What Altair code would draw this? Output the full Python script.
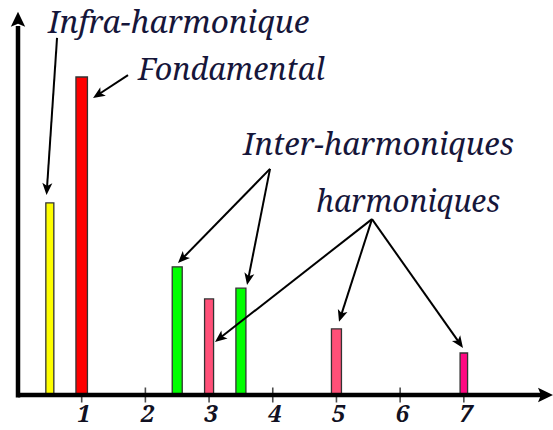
import math
import altair as alt
import pandas as pd

# Spectral components: order (multiple of the fundamental frequency) and relative amplitude
orders = [0.5, 1, 2.5, 3, 3.5, 5, 7]
amplitudes = [0.604, 1.0, 0.403, 0.302, 0.336, 0.208, 0.132]
kinds = ["infra", "fondamental", "inter", "harmonique", "inter", "harmonique", "harmonique"]
tick_values = [1, 2, 3, 4, 5, 6, 7]

# Bar styling
fill_colors = ["#ffff00", "#ff0000", "#00ff00", "#ff5078", "#00ff00", "#ff5078", "#ff0a82"]
bar_widths = [8, 11.5, 10, 9, 10, 10, 7.5]

# Plot geometry
X_MAX = 8.4
Y_MAX = 1.2264
W, H = 535, 390
PX_X = W / X_MAX
PX_Y = H / Y_MAX

SERIF = "Noto Serif"

# Annotation labels (text, x, baseline y) in data units
label_text = ["Infra−harmonique", "Fondamental", "Inter−harmoniques", "harmoniques"]
label_x = [0.471, 1.884, 3.533, 4.679]
label_y = [1.138, 0.991, 0.755, 0.575]
label_sizes = [31.5, 30.5, 31, 30]

# Annotation arrows: start point -> tip, in data units
arrow_x1 = [0.613, 1.727, 3.957, 3.957, 5.558, 5.558, 5.558]
arrow_y1 = [1.123, 1.006, 0.711, 0.711, 0.553, 0.553, 0.553]
arrow_x2 = [0.448, 1.178, 2.512, 3.596, 3.093, 5.040, 6.987]
arrow_y2 = [0.629, 0.934, 0.415, 0.346, 0.167, 0.230, 0.148]

HEAD = "M0,0 L0.42,1 L0,0.75 L-0.42,1 Z"

xs = alt.Scale(domain=[0, X_MAX], nice=False, zero=False, padding=0)
ys = alt.Scale(domain=[0, Y_MAX], nice=False, zero=False, padding=0)

bars_df = pd.DataFrame({
    "ordre": orders, "amp": amplitudes, "type": kinds,
    "fill": fill_colors, "w": bar_widths,
})

# Arrow lines stop a little short of the tip so the head covers the end
lines, heads = [], []
for x1, y1, x2, y2 in zip(arrow_x1, arrow_y1, arrow_x2, arrow_y2):
    dx = (x2 - x1) * PX_X
    dy = -(y2 - y1) * PX_Y
    L = math.hypot(dx, dy)
    ux, uy = dx / L, dy / L
    xe = x2 - ux * 5 / PX_X
    ye = y2 + uy * 5 / PX_Y
    lines.append({"x": x1, "y": y1, "x2": xe, "y2": ye})
    heads.append({"x": x2, "y": y2, "a": math.degrees(math.atan2(dx, -dy)) % 360})
lines_df = pd.DataFrame(lines)
heads_df = pd.DataFrame(heads)

labels_df = pd.DataFrame({"t": label_text, "x": label_x, "y": label_y, "s": label_sizes})
ticks_df = pd.DataFrame({"k": tick_values, "y": [0] * len(tick_values)})

ticks = alt.Chart(ticks_df).mark_tick(
    orient="vertical", size=15, thickness=1.6, color="black"
).encode(
    x=alt.X("k:Q", scale=xs, axis=None),
    y=alt.Y("y:Q", scale=ys, axis=None),
)

tick_labels = alt.Chart(ticks_df).mark_text(
    font=SERIF, fontStyle="italic", fontWeight="bold",
    fontSize=24, baseline="alphabetic", align="center", dy=27, dx=2, color="#111122"
).encode(
    x=alt.X("k:Q", scale=xs, axis=None),
    y=alt.Y("y:Q", scale=ys, axis=None),
    text="k:N",
)

bars = alt.Chart(bars_df).mark_bar(stroke="#333333", strokeWidth=1.3).encode(
    x=alt.X("ordre:Q", scale=xs, axis=None),
    y=alt.Y("amp:Q", scale=ys, axis=None),
    color=alt.Color("fill:N", scale=None, legend=None),
    size=alt.Size("w:Q", scale=None, legend=None),
)

axis_df = pd.DataFrame({
    "x": [0, 0], "y": [0, -0.008], "x2": [8.22, 0], "y2": [0, 1.16],
})
axis_lines = alt.Chart(axis_df).mark_rule(strokeWidth=4.5, color="black").encode(
    x=alt.X("x:Q", scale=xs, axis=None),
    y=alt.Y("y:Q", scale=ys, axis=None),
    x2="x2:Q", y2="y2:Q",
)
axis_heads_df = pd.DataFrame({"x": [X_MAX, 0], "y": [0, 1.205], "a": [90, 0]})
axis_heads = alt.Chart(axis_heads_df).mark_point(
    shape="M0,0 L0.48,1 L0,0.8 L-0.48,1 Z", filled=True, size=900,
    color="black", opacity=1, strokeWidth=0
).encode(
    x=alt.X("x:Q", scale=xs, axis=None),
    y=alt.Y("y:Q", scale=ys, axis=None),
    angle=alt.Angle("a:Q", scale=None),
)

arrow_lines = alt.Chart(lines_df).mark_rule(strokeWidth=2, color="black").encode(
    x=alt.X("x:Q", scale=xs, axis=None),
    y=alt.Y("y:Q", scale=ys, axis=None),
    x2="x2:Q", y2="y2:Q",
)
arrow_heads = alt.Chart(heads_df).mark_point(
    shape=HEAD, filled=True, size=576, color="black", opacity=1, strokeWidth=0
).encode(
    x=alt.X("x:Q", scale=xs, axis=None),
    y=alt.Y("y:Q", scale=ys, axis=None),
    angle=alt.Angle("a:Q", scale=None),
)

labels = alt.Chart(labels_df).mark_text(
    font=SERIF, fontStyle="italic",
    align="left", baseline="alphabetic", color="#16163a"
).encode(
    x=alt.X("x:Q", scale=xs, axis=None),
    y=alt.Y("y:Q", scale=ys, axis=None),
    size=alt.Size("s:Q", scale=None, legend=None),
    text="t:N",
)

chart = alt.layer(
    ticks, tick_labels, bars, axis_lines, axis_heads, arrow_lines, arrow_heads, labels
).properties(
    width=W, height=H,
    padding={"left": 18, "top": 5, "right": 0, "bottom": 35},
    autosize=alt.AutoSizeParams(type="none"),
    background="white",
).configure_view(stroke=None)

chart.save("out.html", embed_options={"renderer": "svg", "actions": False})
